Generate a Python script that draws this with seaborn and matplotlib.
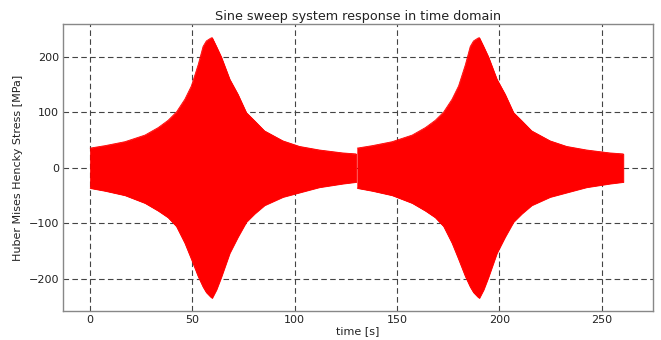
import matplotlib
matplotlib.use("Agg")
import matplotlib.pyplot as plt
import numpy as np
import pandas as pd
import seaborn as sns

# Response envelope of one sine sweep: time within the sweep [s],
# upper and lower stress amplitude [MPa]
sweep_time = [0.0, 7.3, 17.0, 26.8, 33.3, 38.1, 42.2, 46.3, 49.5, 52.8, 55.2, 56.8, 58.9,
              59.6, 61.7, 64.1, 68.2, 72.2, 76.3, 80.4, 85.2, 94.2, 102.3, 112.0, 123.4, 130.0]
upper_amp = [35.0, 39.4, 46.5, 58.4, 72.0, 85.0, 100.0, 123.0, 147.0, 185.0, 218.0, 228.0, 233.0,
             234.0, 218.0, 199.0, 159.0, 132.0, 99.0, 84.0, 66.0, 48.0, 38.0, 31.6, 26.3, 24.5]
lower_amp = [-37.0, -42.0, -50.0, -64.0, -78.0, -90.0, -106.0, -136.0, -165.0, -196.0, -215.0, -225.0, -233.0,
             -235.0, -220.0, -197.0, -154.0, -125.0, -98.0, -83.0, -68.0, -53.0, -45.0, -35.5, -29.0, -26.0]
# Start time of each repeated sweep [s]
sweep_starts = [0.0, 130.6]

frames = []
for k, t0 in enumerate(sweep_starts):
    frames.append(pd.DataFrame({
        "time": np.asarray(sweep_time) + t0,
        "upper": np.asarray(upper_amp),
        "lower": np.asarray(lower_amp),
        "sweep": k,
    }))
env = pd.concat(frames, ignore_index=True)

sns.set_style("white")
plt.rcParams["font.family"] = ["DejaVu Sans"]

fig = plt.figure(figsize=(6.61, 3.40), dpi=100)
ax = fig.add_axes([0.0958, 0.0853, 0.8917, 0.8440])

for k, grp in env.groupby("sweep"):
    ax.fill_between(grp["time"], grp["lower"], grp["upper"], color="red",
                    linewidth=0.6, edgecolor="red")
    sns.lineplot(x=grp["time"], y=grp["upper"], color="red", lw=0.6, ax=ax)
    sns.lineplot(x=grp["time"], y=grp["lower"], color="red", lw=0.6, ax=ax)

ax.set_xlim(-13.1, 275.0)
ax.set_ylim(-258.5, 258.5)
ax.set_xticks([0, 50, 100, 150, 200, 250])
ax.set_yticks([-200, -100, 0, 100, 200])
ax.grid(True, linestyle=(0, (5, 3)), color="#444444", linewidth=0.8)
ax.set_axisbelow(True)
for s in ax.spines.values():
    s.set_color("#888888")
    s.set_linewidth(1.0)
ax.tick_params(axis="both", labelsize=8, colors="#222222", length=0, pad=3)

ax.set_title("Sine sweep system response in time domain", fontsize=9.2, color="#222222", pad=3)
ax.set_xlabel("time [s]", fontsize=8, color="#222222", labelpad=1)
ax.set_ylabel("Huber Mises Hencky Stress [MPa]", fontsize=8, color="#222222", labelpad=4)

fig.savefig("out.png", dpi=100)
